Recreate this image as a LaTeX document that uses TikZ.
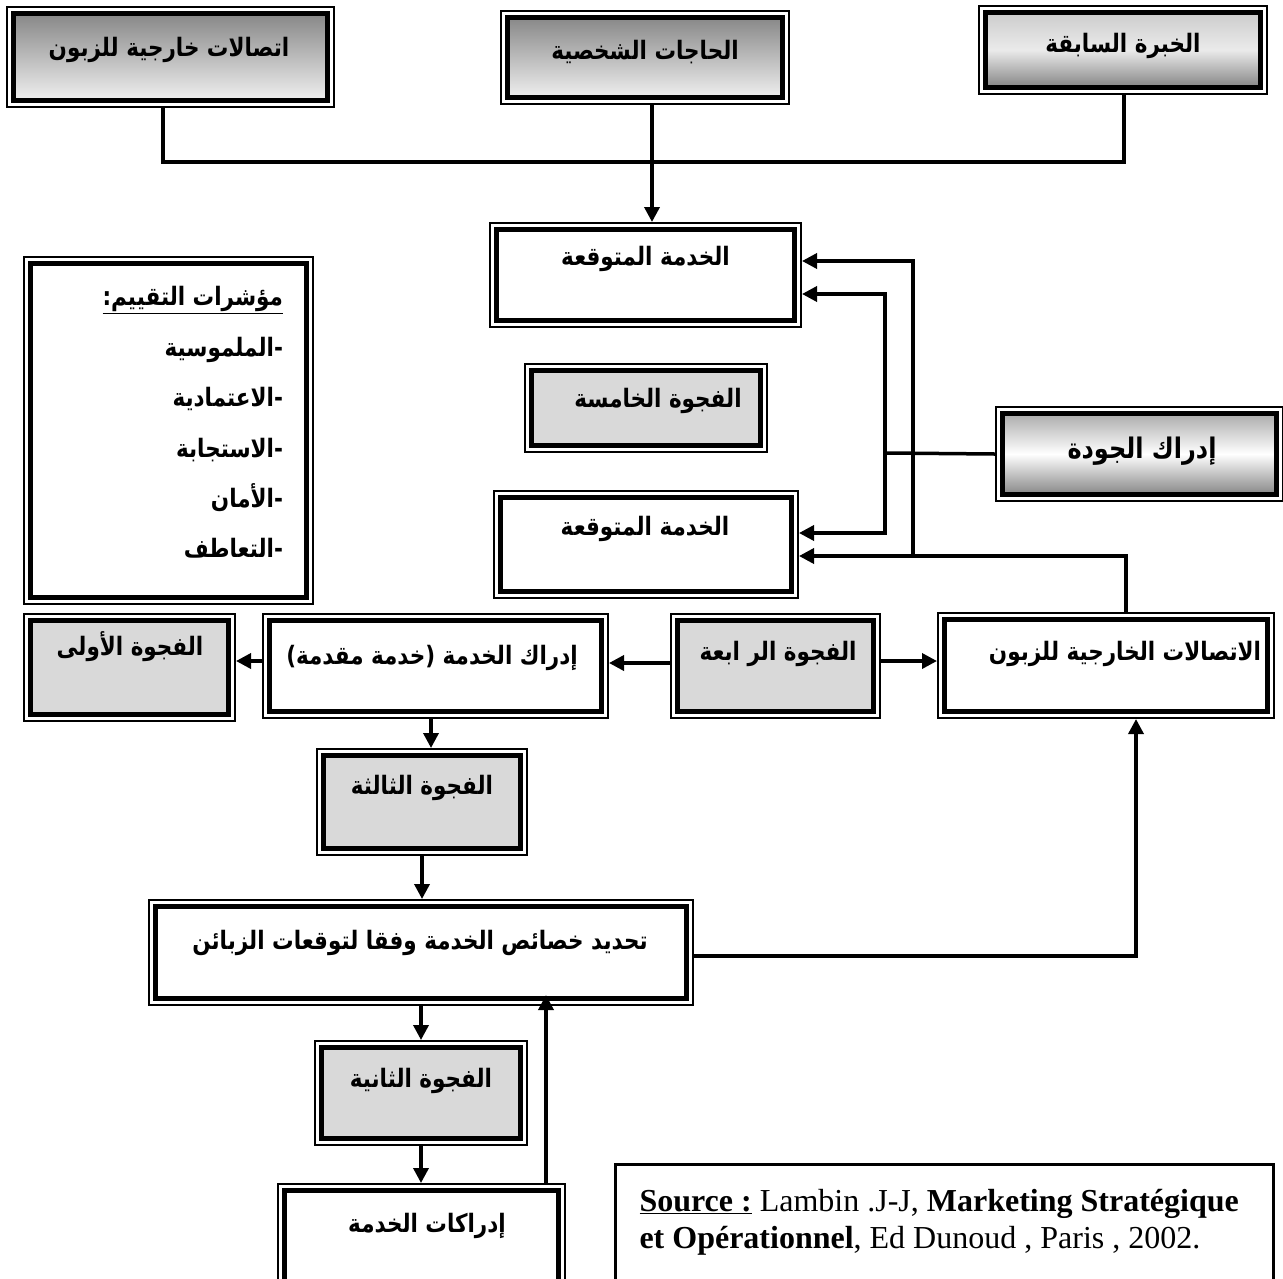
\documentclass[tikz,border=0pt]{standalone}
\usepackage{fontspec}
\setmainfont{Liberation Serif}
\newfontfamily\arfont[Script=Arabic]{DejaVu Sans}
\TeXXeTstate=1
\usetikzlibrary{arrows.meta,calc}
\definecolor{gapgrey}{HTML}{D9D9D9}
% bold Arabic face, drawn slightly taller
\newcommand\artext[1]{\scalebox{1}[1.18]{\arfont\bfseries #1}}
% text shifted by (dx, dy) from the node centre, without changing the node size
\newcommand\boxtext[3]{\raisebox{#2pt}[0pt][0pt]{\makebox[0pt]{\hspace*{#1pt}\hspace*{#1pt}\artext{#3}}}}
% the thick inner frame of the double-framed boxes
\newcommand\innerframe[1]{\draw[line width=5pt,#1]
  ([xshift=6.5pt,yshift=-6.5pt]path picture bounding box.north west) rectangle
  ([xshift=-6.5pt,yshift=6.5pt]path picture bounding box.south east);}
\begin{document}
\begin{tikzpicture}[x=1pt,y=-1pt,
  conn/.style={line width=3.5pt},
  arr/.style={conn,-{Triangle[length=15pt,width=15pt]}},
  boxbase/.style={draw,line width=2pt,fill=white,inner sep=0pt,anchor=north west,
    font=\fontsize{21.5}{25}\selectfont},
  plainbox/.style={boxbase,path picture={\innerframe{fill=white}}},
  gapbox/.style={boxbase,path picture={\innerframe{fill=gapgrey}}},
  topshade/.style={boxbase,path picture={\innerframe{top color=black!50,bottom color=black!3}}},
  bottomshade/.style={boxbase,path picture={\innerframe{top color=black!22,bottom color=black!55,middle color=black!8}}},
  glossshade/.style={boxbase,path picture={\innerframe{top color=black!38,bottom color=black!55,middle color=white}}},
  srcbox/.style={draw,line width=3pt,fill=white,inner sep=0pt,anchor=north west,
    font=\fontsize{32}{37}\selectfont}
]
\useasboundingbox (0,0) rectangle (1283,1278);
\clip (0,0) rectangle (1283,1278);

% sources of expectations
\node[topshade,minimum width=327pt,minimum height=100pt] (A) at (6,6) {\boxtext{-1.5}{1}{\beginR اتصالات خارجية للزبون\endR}};
\node[topshade,minimum width=288pt,minimum height=93pt] (B) at (500,10) {\boxtext{0}{-1.5}{\beginR الحاجات الشخصية\endR}};
\node[bottomshade,minimum width=288pt,minimum height=88pt] (C) at (978,5) {\boxtext{0}{-2}{\beginR الخبرة السابقة\endR}};

% customer side
\node[plainbox,minimum width=311pt,minimum height=104pt] (D) at (489,222) {\boxtext{0}{9.5}{\beginR الخدمة المتوقعة\endR}};
\node[gapbox,minimum width=242pt,minimum height=88pt] (E) at (524,363) {\boxtext{12}{0.5}{\beginR الفجوة الخامسة\endR}};
\node[glossshade,minimum width=287pt,minimum height=94pt,font=\fontsize{24}{28}\selectfont] (F) at (995,406) {\boxtext{2.5}{-4}{\beginR إدراك الجودة\endR}};
\node[plainbox,minimum width=304pt,minimum height=107pt] (G) at (493,490) {\boxtext{-1}{9.5}{\beginR الخدمة المتوقعة\endR}};

% evaluation criteria
\node[plainbox,minimum width=289pt,minimum height=347pt] (T) at (23,256)
  {\raisebox{3.5pt}[0pt][0pt]{\hspace*{229pt}\makebox[0pt][r]{\fontsize{21.5}{50.4}\selectfont
   \begin{tabular}{@{}r@{}}
   \underline{\artext{\beginR مؤشرات التقييم:\endR}}\\
   \artext{\beginR -الملموسية\endR}\\
   \artext{\beginR -الاعتمادية\endR}\\
   \artext{\beginR -الاستجابة\endR}\\
   \artext{\beginR -الأمان\endR}\\
   \artext{\beginR -التعاطف\endR}
   \end{tabular}}}};

% provider side
\node[gapbox,minimum width=211pt,minimum height=107pt] (H) at (23,613) {\boxtext{0.5}{12.5}{\beginR الفجوة الأولى\endR}};
\node[plainbox,minimum width=345pt,minimum height=104pt] (I) at (262,613) {\boxtext{-3.5}{1.5}{\beginR إدراك الخدمة (خدمة مقدمة)\endR}};
\node[gapbox,minimum width=209pt,minimum height=104pt] (J) at (670,613) {\boxtext{2.5}{6}{\beginR الفجوة الر ابعة\endR}};
\node[plainbox,minimum width=336pt,minimum height=105pt] (K) at (937,612) {\boxtext{19}{5.5}{\beginR الاتصالات الخارجية للزبون\endR}};
\node[gapbox,minimum width=210pt,minimum height=106pt] (L) at (316,748) {\boxtext{0}{8}{\beginR الفجوة الثالثة\endR}};
\node[plainbox,minimum width=544pt,minimum height=105pt] (M) at (148,899) {\boxtext{-1}{3}{\beginR تحديد خصائص الخدمة وفقا لتوقعات الزبائن\endR}};
\node[gapbox,minimum width=212pt,minimum height=104pt] (N) at (314,1040) {\boxtext{0}{6}{\beginR الفجوة الثانية\endR}};
\node[plainbox,minimum width=287pt,minimum height=107pt] (O) at (277,1183) {\boxtext{5.5}{5.5}{\beginR إدراكات الخدمة\endR}};

% reference
\node[srcbox,minimum width=658pt,minimum height=130pt] (S) at (614,1163)
  {\raisebox{1pt}[0pt][0pt]{\makebox[0pt][l]{\begin{tabular}{@{}l@{}}
   \underline{\textbf{Source :}} Lambin .J-J, \textbf{Marketing Stratégique}\\
   \textbf{et Opérationnel}, Ed Dunoud , Paris , 2002.
   \end{tabular}}\hspace*{610pt}}};

% junction points
\coordinate (h1) at (163,162);
\coordinate (h2) at (1124,162);
\coordinate (bd) at (652,162);
\coordinate (kg) at (1126,556);
\coordinate (kd) at (913,556);
\coordinate (fj) at (885,453);
\coordinate (om) at (546,995);

% expectations feed the expected service
\draw[conn] (A.south -| h1) -- (h1) -- (h2) -- (C.south -| h2);
\draw[arr] (B.south -| bd) -- (D.north -| bd);

% external communications and quality perception
\draw[arr] (K.north -| kg) -- (kg) -- (G.east |- kg);
\draw[arr] (kd) |- ([yshift=14pt]D.east);
\draw[conn] (F.west) -- (fj);
\draw[arr] (fj) |- ([yshift=-19pt]D.east);
\draw[arr] (fj) |- ([yshift=11.5pt]G.east);

% gaps row
\draw[arr] ([yshift=3pt]J.west) -- ([yshift=3pt]J.west -| I.east);
\draw[arr] ([yshift=5pt]J.east) -- ([yshift=5pt]J.east -| K.west);
\draw[arr] ([yshift=5pt]I.west) -- ([yshift=5pt]I.west -| H.east);

% provider chain
\draw[arr] ([xshift=-4.5pt]I.south) -- ([xshift=-4.5pt]I.south |- L.north);
\draw[arr] (L.south) -- (L.south |- M.north);
\draw[arr] (M.south -| N.north) -- (N.north);
\draw[arr] (N.south) -- (N.south |- O.north);
\draw[arr] (O.north -| om) -- (om);
\draw[arr] ([yshift=-3.5pt]M.east) -| ([xshift=30pt]K.south);
\end{tikzpicture}
\end{document}
